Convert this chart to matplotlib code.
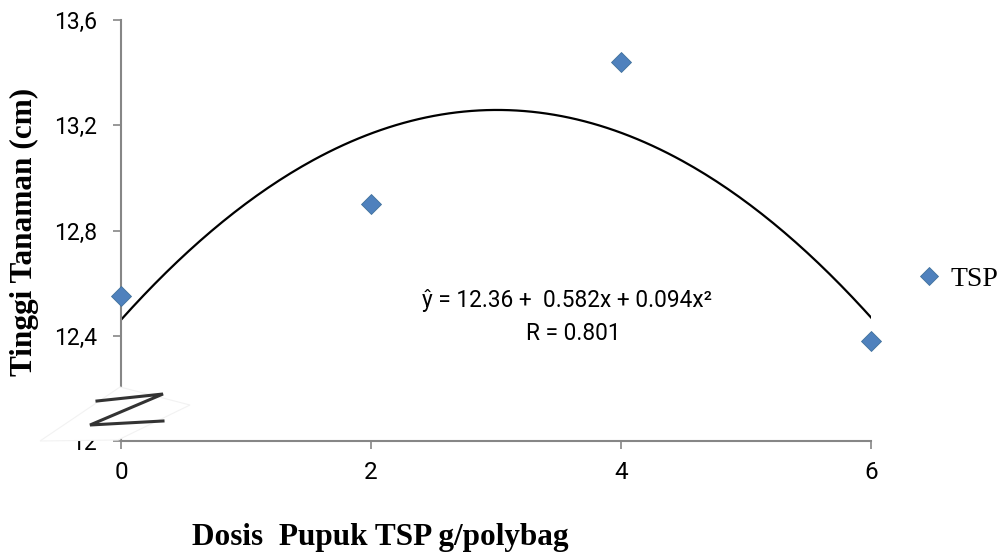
import numpy as np
import matplotlib
matplotlib.use("Agg")
import matplotlib.pyplot as plt
from matplotlib.patches import Polygon
from matplotlib.lines import Line2D

# data
dosis = [0, 2, 4, 6]
tinggi = [12.55, 12.90, 13.44, 12.38]
y_ticks = [12.0, 12.4, 12.8, 13.2, 13.6]
y_labels = ["12", "12,4", "12,8", "13,2", "13,6"]
x_ticks = [0, 2, 4, 6]
eq_text = "ŷ = 12.36 +  0.582x + 0.094x²"
r_text = "R = 0.801"

W, H = 1005, 553
fig = plt.figure(figsize=(W / 100, H / 100), dpi=100)


def fx(px):
    return px / W


def fy(py):
    return 1 - py / H


ax = fig.add_axes([fx(121), fy(441), fx(871) - fx(121), fy(20) - fy(441)])
ax.set_xlim(0, 6)
ax.set_ylim(12.0, 13.6)

# quadratic trend line through the points
coef = np.polyfit(dosis, tinggi, 2)
xs = np.linspace(0, 6, 200)
ax.plot(xs, np.polyval(coef, xs), color="black", lw=1.6, zorder=2)

ax.plot(dosis, tinggi, ls="none", marker="D", ms=10.5, color="#4F81BD",
        mec="#41719C", mew=0.6, clip_on=False, zorder=3, label="TSP")

grey = "#868686"
for s in ["top", "right"]:
    ax.spines[s].set_visible(False)
for s in ["left", "bottom"]:
    ax.spines[s].set_color(grey)
    ax.spines[s].set_linewidth(1.5)

ax.set_xticks(x_ticks)
ax.set_yticks(y_ticks)
ax.set_yticklabels(y_labels)
ax.tick_params(axis="y", direction="out", length=5.5, width=1.2, color=grey,
               pad=12, labelsize=16.5)
ax.tick_params(axis="x", direction="out", length=5.5, width=1.2, color=grey,
               pad=9, labelsize=17.5)
for lab in ax.get_xticklabels() + ax.get_yticklabels():
    lab.set_family("Roboto")
    lab.set_color("black")

# equation
fig.text(fx(567), fy(300), eq_text, ha="center", va="center",
         family="Roboto", fontsize=16.3)
fig.text(fx(573), fy(334), r_text, ha="center", va="center",
         family="Roboto", fontsize=16.3)

# axis titles
fig.text(fx(24), fy(232), "Tinggi Tanaman (cm)", rotation=90, ha="center",
         va="center", family="Liberation Serif", weight="bold", fontsize=22.5)
fig.text(fx(380), fy(545), "Dosis  Pupuk TSP g/polybag", ha="center",
         va="baseline", family="Liberation Serif", weight="bold", fontsize=22.5)

# legend
fig.legend(loc="center left", bbox_to_anchor=(fx(903), fy(279)), frameon=False,
           handlelength=0.9, handletextpad=0.3, borderpad=0, markerscale=0.9,
           prop={"family": "Liberation Serif", "size": 20})

# axis break
band = [(40, 441), (118, 440), (190, 405), (120, 387)]
fig.add_artist(Polygon([(fx(a), fy(b)) for a, b in band], closed=True,
                       transform=fig.transFigure, facecolor="white",
                       edgecolor="#f2f2f2", lw=0.8, zorder=10))
zx = [97, 163, 90, 163]
zy = [401, 394, 425, 421]
fig.add_artist(Line2D([fx(v) for v in zx], [fy(v) for v in zy],
                      transform=fig.transFigure, color="#333333", lw=2.2,
                      solid_joinstyle="miter", zorder=11))

fig.savefig("out.png", dpi=100)
